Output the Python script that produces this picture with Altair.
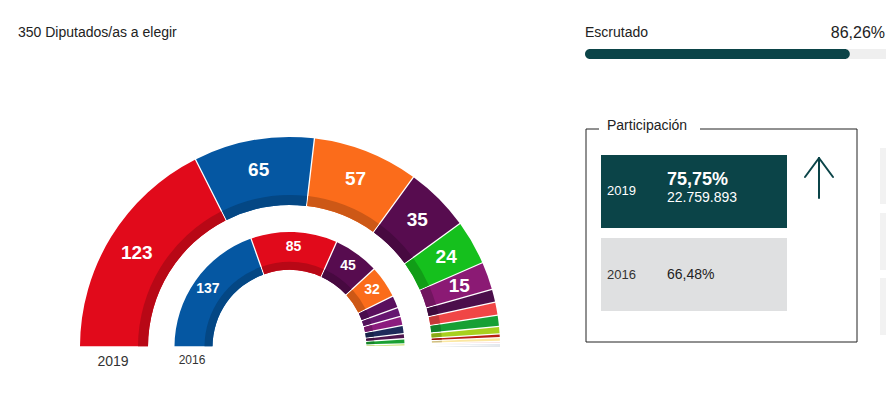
import math
import altair as alt
import pandas as pd

FONT = "Liberation Sans"
TOTAL_SEATS = 350

header_text = "350 Diputados/as a elegir"
scrutiny_label = "Escrutado"
scrutiny_pct = 86.26
scrutiny_text = "86,26%"

parties_2019 = ["PSOE", "PP", "Cs", "Unidas Podemos", "Vox", "ERC", "ECP", "JxCat",
                "PNV", "EH Bildu", "CCa", "NA+", "Compromís", "PRC", "Otros"]
seats_2019 = [123, 65, 57, 35, 24, 15, 7, 7, 6, 4, 2, 2, 1, 1, 1]
colors_2019 = ["#e10a1b", "#0557a2", "#fb6c1b", "#570c4f", "#15c01d", "#8b1a74",
               "#4b0e4b", "#f04646", "#16a035", "#a8d01e", "#b81e14", "#fbe7a1",
               "#f4c7c7", "#c3d0de", "#8fa0ae"]

parties_2016 = ["PP", "PSOE", "Unidos Podemos", "Cs", "ECP", "Compromís-Podemos",
                "ERC", "CDC", "En Marea", "PNV", "EH Bildu", "CC"]
seats_2016 = [137, 85, 45, 32, 12, 9, 9, 8, 5, 5, 2, 1]
colors_2016 = ["#0557a2", "#e10a1b", "#570c4f", "#fb6c1b", "#5a0f5e", "#661670",
               "#8c1c7e", "#1e2a5a", "#4f164f", "#1aa032", "#a6d11e", "#d7e24a"]

years = ["2019", "2016"]
turnout_pct = ["75,75%", "66,48%"]
turnout_votes = ["22.759.893", ""]
participation_title = "Participación"

LABEL_MIN = 15


def darker(hex_color, f=0.82):
    r, g, b = (int(hex_color[i:i + 2], 16) for i in (1, 3, 5))
    return "#%02x%02x%02x" % (int(r * f), int(g * f), int(b * f))


def ring_df(parties, seats, colors):
    return pd.DataFrame({
        "party": parties,
        "seats": seats,
        "idx": list(range(len(parties))),
        "color": colors,
        "dark": [darker(c) for c in colors],
        "label": [str(s) if s >= LABEL_MIN else "" for s in seats],
    })


theta = alt.Theta("seats:Q", stack=True,
                  scale=alt.Scale(domain=[0, TOTAL_SEATS], range=[-math.pi / 2, math.pi / 2]))

GAP = 1.3


def ring_layers(df, cx, cy, r_out, r_in, band, label_r, fsize):
    base = alt.Chart(df).encode(theta=theta, order=alt.Order("idx:Q"),
                                x=alt.value(cx), y=alt.value(cy))
    main = base.mark_arc(radius=r_out, radius2=r_in,
                         padAngle=GAP / math.hypot(r_out, r_in)).encode(
        color=alt.Color("color:N", scale=None))
    band_l = base.mark_arc(radius=r_in + band, radius2=r_in,
                           padAngle=GAP / math.hypot(r_in + band, r_in)).encode(
        color=alt.Color("dark:N", scale=None))
    text = base.mark_text(radius=label_r, font=FONT, fontSize=fsize, fontWeight="bold",
                          color="white", baseline="middle", align="center").encode(
        text="label:N")
    return [main, band_l, text]


def text_layer(t, x, y, size=13, color="#222222", align="left", weight="normal"):
    return alt.Chart(pd.DataFrame({"t": [t]})).mark_text(
        font=FONT, fontSize=size, color=color, align=align, baseline="middle",
        fontWeight=weight).encode(text="t:N", x=alt.value(x), y=alt.value(y))


def rect_layer(x, x2, y, y2, fill, **kw):
    return alt.Chart(pd.DataFrame({"a": [0]})).mark_rect(fill=fill, **kw).encode(
        x=alt.value(x), x2=alt.value(x2), y=alt.value(y), y2=alt.value(y2))


def rule_layer(x, x2, y, y2, color, width):
    return alt.Chart(pd.DataFrame({"a": [0]})).mark_rule(
        color=color, strokeWidth=width, strokeCap="round").encode(
        x=alt.value(x), x2=alt.value(x2), y=alt.value(y), y2=alt.value(y2))


df19 = ring_df(parties_2019, seats_2019, colors_2019)
df16 = ring_df(parties_2016, seats_2016, colors_2016)

layers = []
layers += ring_layers(df19, 282, 339, 210, 142, 10, 180, 19)
layers += ring_layers(df16, 281.5, 339, 115, 77, 8, 100, 14)

layers.append(text_layer(years[0], 105, 354, size=14, color="#333333", align="center"))
layers.append(text_layer(years[1], 184, 352, size=12, color="#333333", align="center"))
layers.append(text_layer(header_text, 10, 25, size=14))

# Scrutiny progress bar
TEAL = "#0b4448"
bar_df = pd.DataFrame({"start": [0, 0], "end": [100, scrutiny_pct],
                       "col": ["#efefef", TEAL]})
bar = alt.Chart(bar_df).mark_rect(cornerRadius=5).encode(
    x=alt.X("start:Q", scale=alt.Scale(domain=[0, 100], range=[577, 884]), axis=None),
    x2="end:Q",
    y=alt.value(41), y2=alt.value(51),
    color=alt.Color("col:N", scale=None))
layers.append(text_layer(scrutiny_label, 577, 25, size=14))
layers.append(text_layer(scrutiny_text, 877, 25, size=16, align="right"))
layers.append(bar)

# Participation box
layers.append(rect_layer(578, 849, 121, 334, "white", stroke="#222222", strokeWidth=1))
layers.append(rect_layer(591, 692, 115, 127, "white"))
layers.append(text_layer(participation_title, 599, 118, size=14))
layers.append(rect_layer(593, 779, 147, 220, TEAL))
layers.append(rect_layer(593, 779, 230, 303, "#dfe0e1"))
layers.append(text_layer(years[0], 599, 183, size=13, color="white"))
layers.append(text_layer(turnout_pct[0], 659, 172, size=18, color="white", weight="bold"))
layers.append(text_layer(turnout_votes[0], 659, 190, size=14, color="white"))
layers.append(text_layer(years[1], 599, 267, size=13, color="#333333"))
layers.append(text_layer(turnout_pct[1], 659, 267, size=14, color="#222222"))

# Arrow
layers.append(rule_layer(811, 811, 150, 190, TEAL, 2))
layers.append(rule_layer(811, 797, 150, 169, TEAL, 2))
layers.append(rule_layer(811, 825, 150, 169, TEAL, 2))

# Partial side boxes
for y0, y1 in [(140, 196), (205, 262), (270, 327)]:
    layers.append(rect_layer(872, 890, y0, y1, "#f2f2f2"))

chart = alt.layer(*layers).properties(
    width=878, height=381, padding=0, autosize="none"
).configure_view(stroke=None)

chart.save("out.html", embed_options={"renderer": "svg", "actions": False})
